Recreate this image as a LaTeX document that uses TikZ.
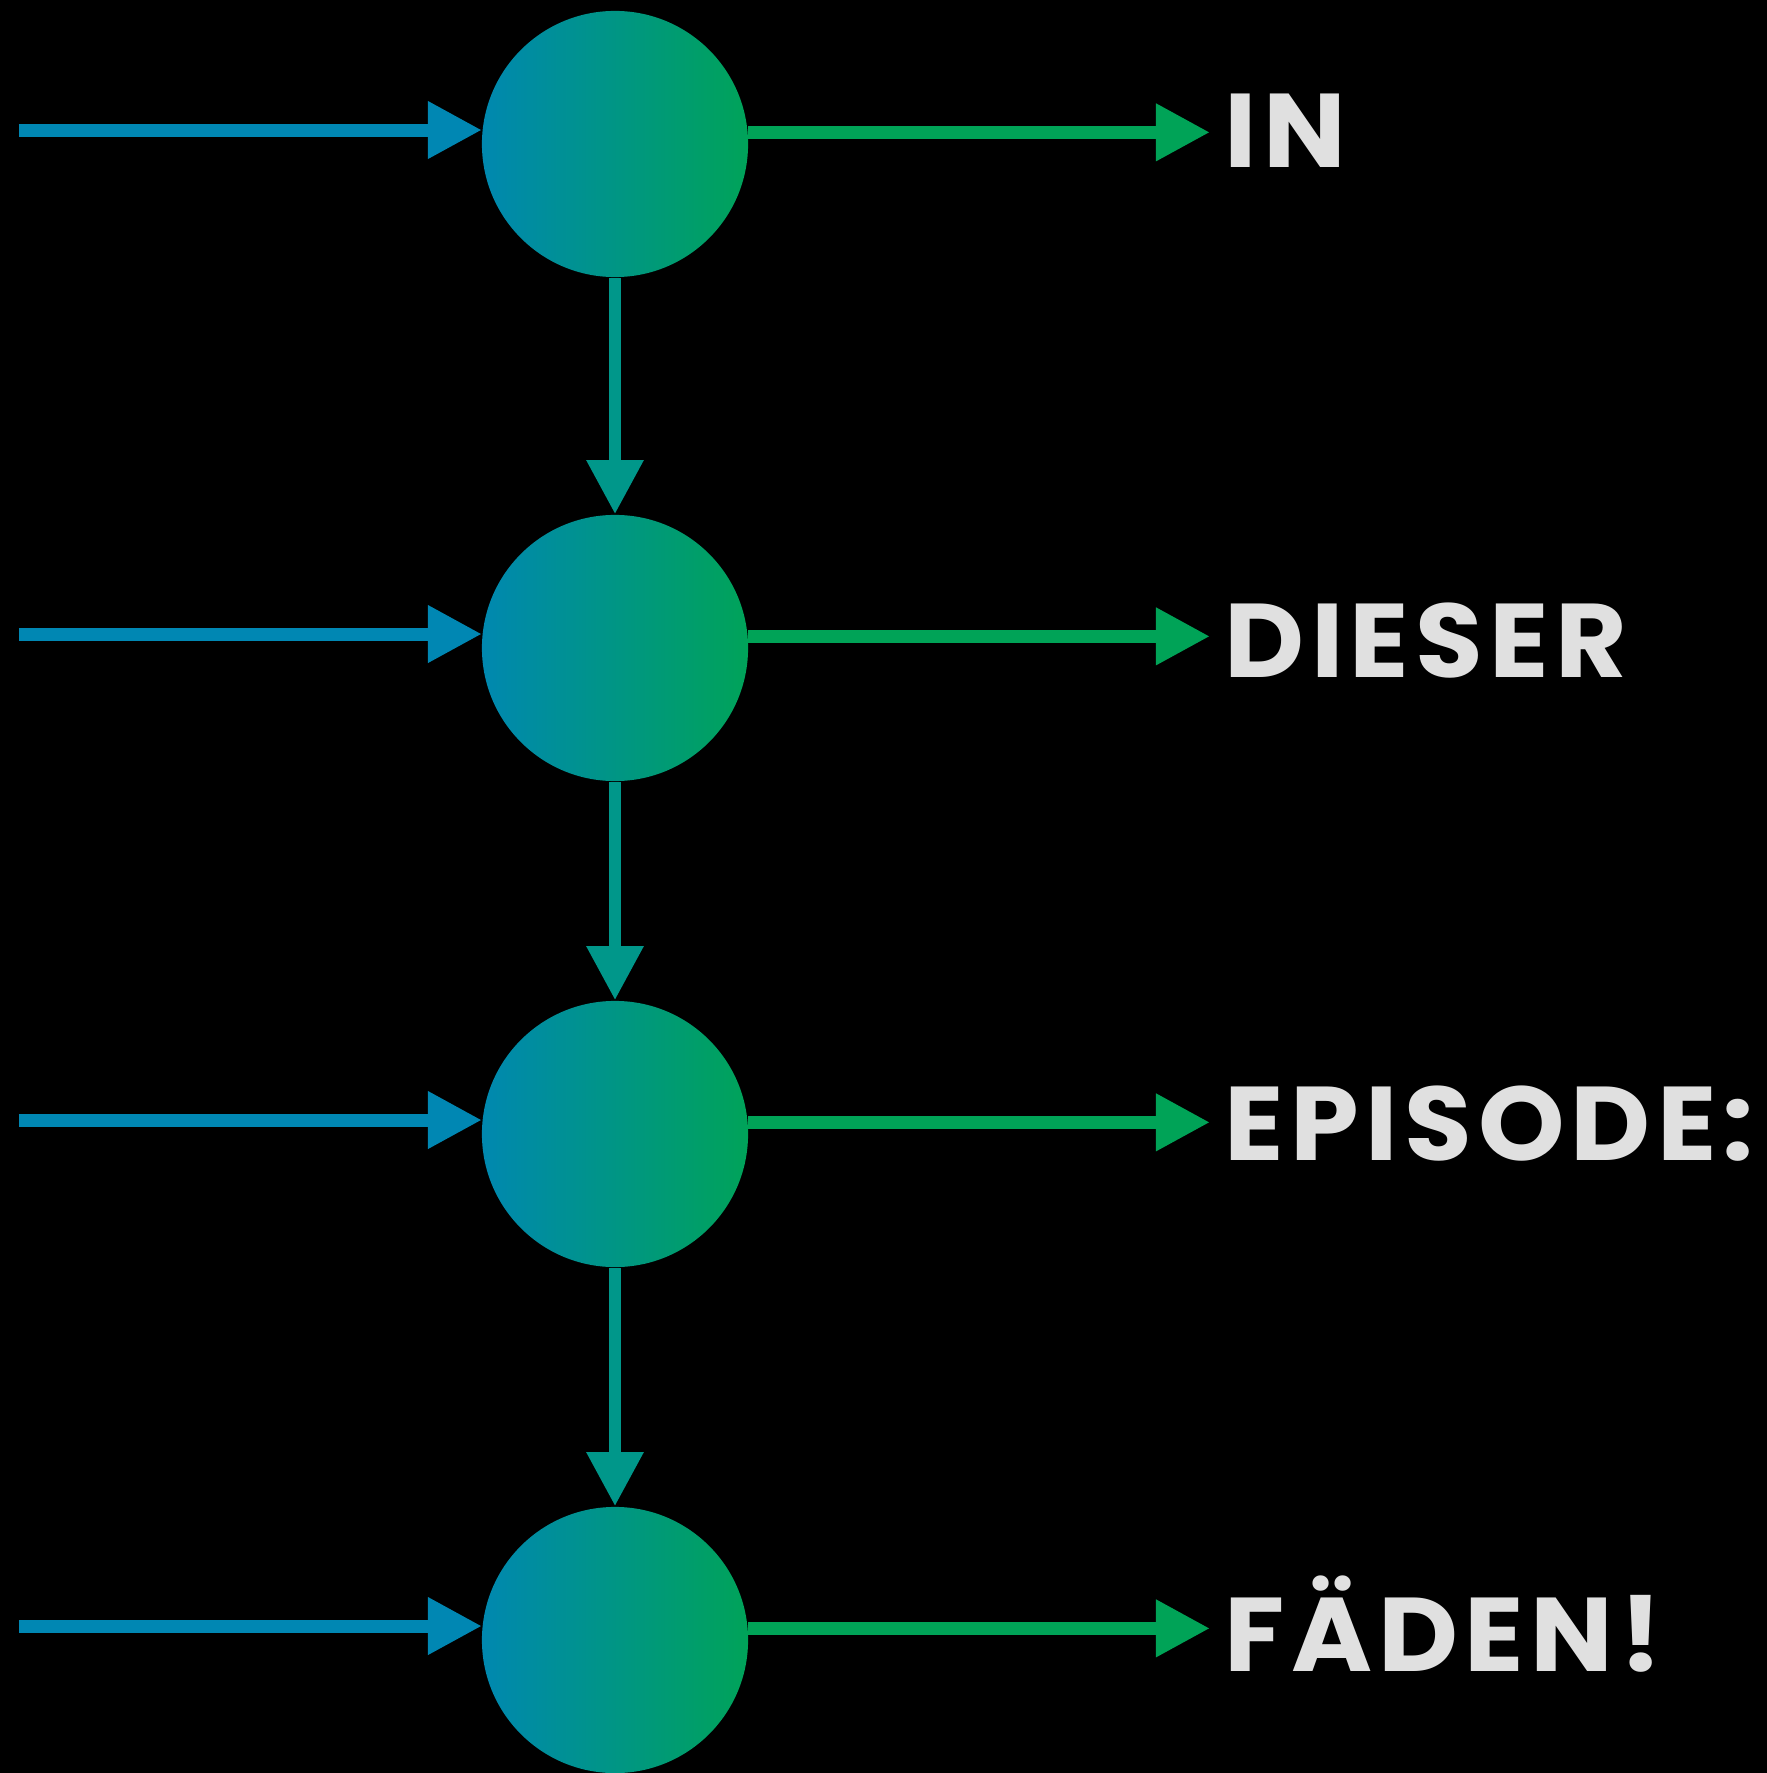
\documentclass[tikz,border=0pt]{standalone}
\usepackage{fontspec}
\setmainfont{Poppins}[FakeStretch=1.05, LetterSpace=6]
\usetikzlibrary{arrows.meta, calc}
\definecolor{bgcolor}{HTML}{000000}
\definecolor{inblue}{HTML}{0087B3}
\definecolor{nodeleft}{HTML}{0088B0}
\definecolor{nodemid}{HTML}{00968C}
\definecolor{noderight}{HTML}{00A359}
\definecolor{chaincolor}{HTML}{00978A}
\definecolor{outgreen}{HTML}{00A357}
\definecolor{wordcolor}{HTML}{E0E0E0}

\begin{document}
\begin{tikzpicture}[
    x=0.01cm, y=-0.01cm,
    tip/.style={-{Triangle[length=0.54cm, width=0.54cm]}},
    inarrow/.style={tip, inblue, line width=0.13cm},
    chainarrow/.style={tip, chaincolor, line width=0.12cm},
    outarrow/.style={tip, outgreen, line width=0.13cm},
    cell/.style={circle, minimum size=2.66cm, inner sep=0pt,
        left color=nodeleft, middle color=nodemid, right color=noderight},
    word/.style={anchor=base west, inner xsep=0.14cm, inner ysep=0pt,
        text=wordcolor, font=\fontsize{29.8}{36}\selectfont\bfseries}
]

    % Background
    \useasboundingbox (0, 0) rectangle (1766, 1773);
    \fill[bgcolor] (-10, -10) rectangle (1776, 1783);

    % Cells of the chain
    \node[cell] (c1) at (615, 144) {};
    \node[cell] (c2) at (615, 648) {};
    \node[cell] (c3) at (615, 1134) {};
    \node[cell] (c4) at (615, 1640) {};

    % Words on the right
    \node[word] (t1) at (1210, 168) {IN};
    \node[word] (t2) at (1210, 677) {DIESER};
    \node[word] (t3) at (1210, 1160) {EPISODE:};
    \node[word] (t4) at (1210, 1671) {FÄDEN!};

    % Inputs from the left
    \foreach \i in {1,...,4} {
        \coordinate (in\i) at ($(c\i.174) + (-463, 0)$);
    }

    % Connectors
    \foreach \i in {1,...,4} {
        \draw[inarrow] (in\i) -- (c\i.174);
        \draw[outarrow] (c\i.5) -- (c\i.5 -| t\i.west);
    }
    \draw[chainarrow] (c1) -- (c2);
    \draw[chainarrow] (c2) -- (c3);
    \draw[chainarrow] (c3) -- (c4);

\end{tikzpicture}
\end{document}
